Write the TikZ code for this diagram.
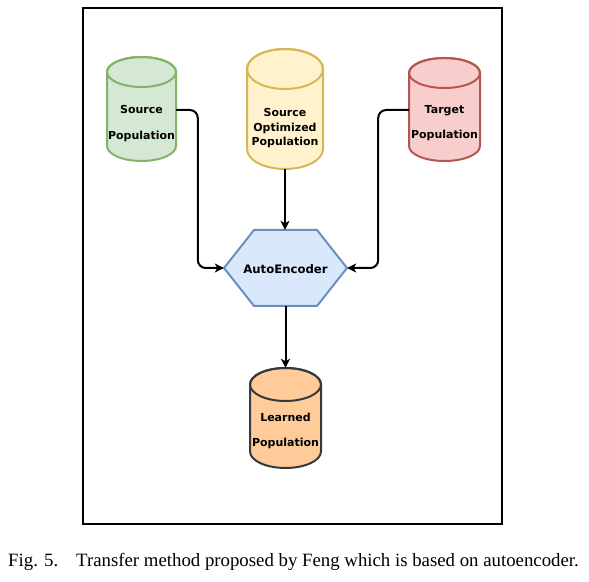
\documentclass[tikz,border=0pt]{standalone}
\usepackage{fontspec}
\setmainfont{Liberation Serif}
\newfontfamily\dejavu{DejaVu Sans}
\usetikzlibrary{arrows.meta}
\definecolor{gfill}{HTML}{D5E8D4}\definecolor{gdraw}{HTML}{82B366}
\definecolor{yfill}{HTML}{FFF2CC}\definecolor{ydraw}{HTML}{D6B656}
\definecolor{rfill}{HTML}{F8CECC}\definecolor{rdraw}{HTML}{B85450}
\definecolor{ofill}{HTML}{FFCC99}\definecolor{odraw}{HTML}{36393D}
\definecolor{bfill}{HTML}{DAE8FC}\definecolor{bdraw}{HTML}{6C8EBF}
\newcommand\mycyl[7]{% cx rx top bottom ry fill draw
  \filldraw[fill=#6, draw=#7, line width=2pt] (#1-#2,#3-#5) -- (#1-#2,#4+#5)
    arc[start angle=180,end angle=360,x radius=#2,y radius=#5] -- (#1+#2,#3-#5)
    arc[start angle=0,end angle=180,x radius=#2,y radius=#5] -- cycle;
  \draw[draw=#7, line width=2pt] (#1,#3-#5) ellipse[x radius=#2, y radius=#5];
}
\begin{document}
\begin{tikzpicture}[x=1pt,y=1pt,
  lbl/.style={font=\dejavu\bfseries\fontsize{11}{14.5}\selectfont, align=center, inner sep=0pt, text=black},
  hexlbl/.style={font=\dejavu\bfseries\fontsize{11.7}{14}\selectfont, inner sep=0pt},
  box/.style={draw=none, inner sep=0pt},
  arr/.style={draw=black, line width=2pt, rounded corners=8pt, -{Stealth[length=9pt,width=9pt,inset=2.5pt]}}]
\useasboundingbox (0,0) rectangle (589,581);
% frame
\draw[line width=2pt, black] (83,57) rectangle (502,573);
% cylinders
\mycyl{141.5}{34.5}{524}{420}{15}{gfill}{gdraw}
\mycyl{285}{38}{532}{412}{20}{yfill}{ydraw}
\mycyl{444.5}{35.5}{523}{420}{15}{rfill}{rdraw}
\mycyl{285.5}{35.5}{213}{113}{16.5}{ofill}{odraw}
% hexagon
\filldraw[fill=bfill, draw=bdraw, line width=2pt] (224,313) -- (254,351) -- (317,351) -- (347,313) -- (317,275) -- (254,275) -- cycle;
% anchor boxes
\node[box, minimum width=69pt, minimum height=102pt] (srcbox) at (141.5,471) {};
\node[box, minimum width=76pt, minimum height=120pt] (optbox) at (285,472) {};
\node[box, minimum width=71pt, minimum height=102pt] (tgtbox) at (444.5,471) {};
\node[box, minimum width=71pt, minimum height=100pt] (lrnbox) at (285.5,163) {};
\node[box, minimum width=123pt, minimum height=76pt] (hex) at (285.5,313) {};
% labels
\node[lbl] (srctxt) at (141.5,457.5) {Source\\[11.5pt]Population};
\node[lbl] (opttxt) at (285,452.5) {Source\\Optimized\\Population};
\node[lbl] (tgttxt) at (444.5,458) {Target\\[10.5pt]Population};
\node[lbl] (lrntxt) at (285.5,150.5) {Learned\\[10.5pt]Population};
\node[hexlbl] (hextxt) at (285.5,312) {AutoEncoder};
% connectors
\draw[arr] (srcbox.east) -| ([xshift=-26pt]hex.west) -- (hex.west);
\draw[arr] (tgtbox.west) -| ([xshift=31pt]hex.east) -- (hex.east);
\draw[arr] (optbox.south) -- (optbox.south |- hex.north);
\draw[arr] (hex.south) -- (lrnbox.north);
% caption
\node[anchor=base west, inner sep=0pt, font=\fontsize{18.8}{22}\selectfont] (caption) at (8,14) {Fig. 5.\hspace{0.95em}Transfer method proposed by Feng which is based on autoencoder.};
\end{tikzpicture}
\end{document}
